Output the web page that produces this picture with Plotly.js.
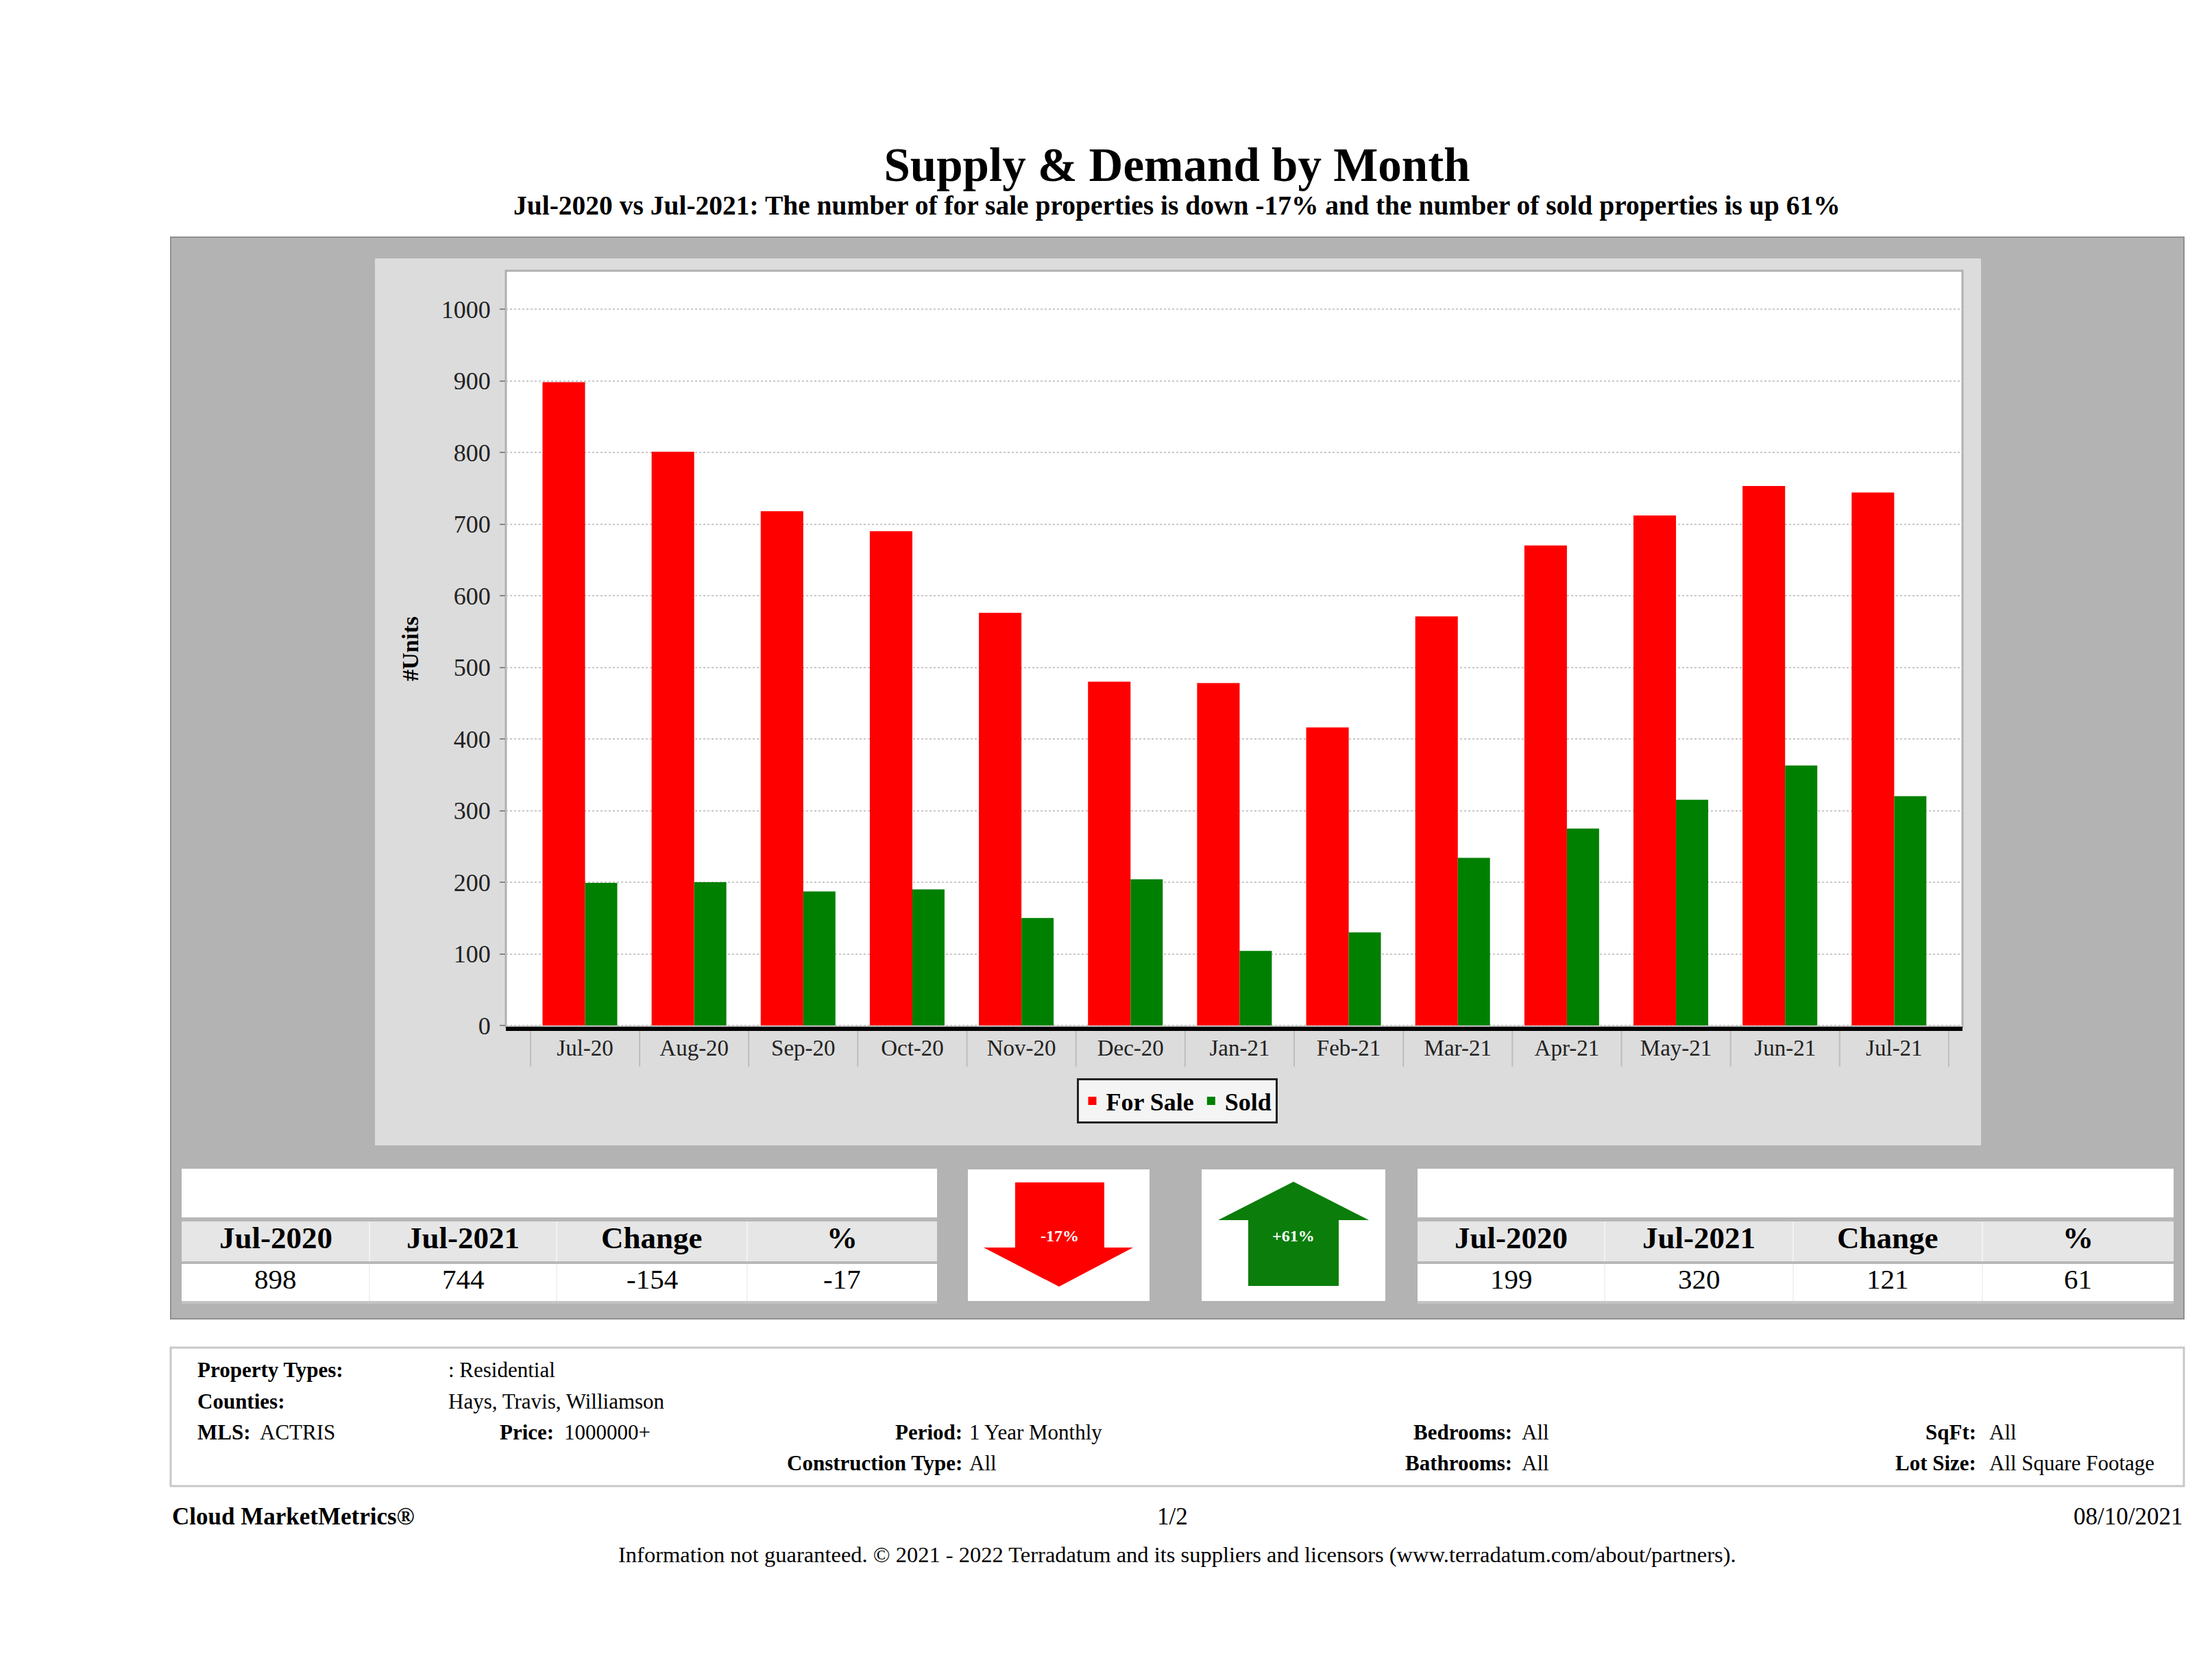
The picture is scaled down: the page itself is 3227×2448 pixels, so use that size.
<!DOCTYPE html>
<html>
<head>
<meta charset="utf-8">
<script src="https://cdn.plot.ly/plotly-3.0.1.min.js"></script>
<style>html,body{margin:0;padding:0;background:#fff;}#chart{width:3227px;height:2448px;}</style>
</head>
<body>
<div id="chart"></div>
<script>
// ---------- data ----------
const months = ["Jul-20","Aug-20","Sep-20","Oct-20","Nov-20","Dec-20","Jan-21","Feb-21","Mar-21","Apr-21","May-21","Jun-21","Jul-21"];
const forSale = [898, 801, 718, 690, 576, 480, 478, 416, 571, 670, 712, 753, 744];
const sold    = [199, 200, 187, 190, 150, 204, 104, 130, 234, 275, 315, 363, 320];
const tableHeaders = ["Jul-2020", "Jul-2021", "Change", "%"];
const forSaleTable = ["898", "744", "-154", "-17"];
const soldTable    = ["199", "320", "121", "61"];
const forSaleBadge = "-17%";
const soldBadge = "+61%";
const titleText = "Supply & Demand by Month";
const subtitleText = "Jul-2020 vs Jul-2021: The number of for sale properties is down -17% and the number of sold properties is up 61%";
const infoRows = [
  {label: "Property Types:", value: ": Residential"},
  {label: "Counties:", value: "Hays, Travis, Williamson"}
];
const footerLeft = "Cloud MarketMetrics®";
const footerMid = "1/2";
const footerRight = "08/10/2021";
const disclaimer = "Information not guaranteed. © 2021 - 2022 Terradatum and its suppliers and licensors (www.terradatum.com/about/partners).";

// ---------- geometry helpers ----------
const PW = 3227, PH = 2448;
const L = 738, R = 2863, T = 395, B = 1498;
const W = R - L, H = B - T;
const px = x => (x - L) / W;
const py = y => (B - y) / H;
const FONT = "Liberation Serif, Times New Roman, serif";

const shapes = [];
const ann = [];
function rect(x0, y0, x1, y1, fill, line, lw) {
  shapes.push({type: "rect", xref: "paper", yref: "paper", layer: "below",
    x0: px(x0), x1: px(x1), y0: py(y1), y1: py(y0),
    fillcolor: fill, line: {color: line || fill, width: lw === undefined ? 0 : lw}});
}
function path(pts, fill) {
  let d = pts.map((p, i) => (i ? "L" : "M") + px(p[0]) + "," + py(p[1])).join(" ") + " Z";
  shapes.push({type: "path", xref: "paper", yref: "paper", layer: "below", path: d, fillcolor: fill, line: {width: 0}});
}
function text(x, y, s, size, bold, anchor, color) {
  ann.push({xref: "paper", yref: "paper", x: px(x), y: py(y), text: bold ? "<b>" + s + "</b>" : s,
    showarrow: false, xanchor: anchor || "center", yanchor: "middle",
    font: {family: FONT, size: size, color: color || "#000"}});
}

// backgrounds
rect(249, 346, 3186, 1924, "#b3b3b3", "#8f8f8f", 2);
rect(547, 377, 2890, 1671, "#dcdcdc");
rect(L, T, R, B, "#ffffff", "#b0b0b0", 3);

// category separators below axis
for (let i = 0; i <= months.length; i++) {
  shapes.push({type: "line", xref: "x", yref: "paper", layer: "below",
    x0: i - 0.5, x1: i - 0.5, y0: py(1500), y1: py(1556),
    line: {color: "#bdbdbd", width: 2}});
}

// tables
function table(x0, x1, divs, values) {
  rect(x0, 1705, x1, 1900, "#ffffff");
  rect(x0, 1776, x1, 1782, "#b8b8b8");
  rect(x0, 1782, x1, 1840, "#e6e6e6");
  rect(x0, 1840, x1, 1844, "#b8b8b8");
  rect(x0, 1898, x1, 1902, "#c4c4c4");
  divs.forEach(d => {
    rect(d - 1, 1782, d + 1, 1840, "#f2f2f2");
    rect(d - 1, 1844, d + 1, 1898, "#f2f2f2");
  });
  const edges = [x0].concat(divs).concat([x1]);
  for (let i = 0; i < 4; i++) {
    const cx = (edges[i] + edges[i + 1]) / 2;
    text(cx, 1806, tableHeaders[i], 45, true);
    text(cx, 1866, values[i], 41, false);
  }
}
table(265, 1367, [539, 812, 1090], forSaleTable);
table(2068, 3171, [2341, 2616, 2892], soldTable);

// arrows
rect(1412, 1706, 1677, 1898, "#ffffff");
path([[1481, 1725], [1611, 1725], [1611, 1820], [1653, 1820], [1545, 1877], [1435, 1820], [1481, 1820]], "#ff0000");
text(1546, 1803, forSaleBadge, 24, true, "center", "#ffffff");
rect(1753, 1706, 2021, 1898, "#ffffff");
path([[1887, 1724], [1997, 1780], [1953, 1780], [1953, 1876], [1821, 1876], [1821, 1780], [1777, 1780]], "#0a7d0a");
text(1887, 1803, soldBadge, 24, true, "center", "#ffffff");

// info box
const FS = 31;
rect(249, 1966, 3186, 2168, "#ffffff", "#c8c8c8", 3);
text(286, 1998, infoRows[0].label, FS, true, "left");
text(652, 1998, infoRows[0].value, FS, false, "left");
text(286, 2044, infoRows[1].label, FS, true, "left");
text(652, 2044, infoRows[1].value, FS, false, "left");
text(286, 2089, "MLS:", FS, true, "left");
text(377, 2089, "ACTRIS", FS, false, "left");
text(810, 2089, "Price:", FS, true, "right");
text(821, 2089, "1000000+", FS, false, "left");
text(1406, 2089, "Period:", FS, true, "right");
text(1412, 2089, "1 Year Monthly", FS, false, "left");
text(2208, 2089, "Bedrooms:", FS, true, "right");
text(2218, 2089, "All", FS, false, "left");
text(2885, 2089, "SqFt:", FS, true, "right");
text(2900, 2089, "All", FS, false, "left");
text(1406, 2134, "Construction Type:", FS, true, "right");
text(1412, 2134, "All", FS, false, "left");
text(2208, 2134, "Bathrooms:", FS, true, "right");
text(2218, 2134, "All", FS, false, "left");
text(2885, 2134, "Lot Size:", FS, true, "right");
text(2900, 2134, "All Square Footage", FS, false, "left");

// footer
text(249, 2212, footerLeft, 35, true, "left");
text(1710, 2212, footerMid, 35, false, "center");
text(3186, 2212, footerRight, 35, false, "right");
text(1717, 2268, disclaimer, 32.5, false, "center");

// subtitle
text(1717, 300, subtitleText, 39.5, true, "center");

const traces = [
  {type: "bar", name: "For Sale", x: months, y: forSale, offset: -0.39, width: 0.39,
   marker: {color: "#ff0000", line: {width: 0}}},
  {type: "bar", name: "Sold", x: months, y: sold, offset: 0, width: 0.295,
   marker: {color: "#008000", line: {width: 0}}}
];

const layout = {
  width: PW, height: PH,
  margin: {l: L, r: PW - R, t: T, b: PH - B, pad: 0},
  paper_bgcolor: "#ffffff",
  plot_bgcolor: "rgba(0,0,0,0)",
  barmode: "overlay",
  showlegend: true,
  title: {text: "<b>" + titleText + "</b>", font: {family: FONT, size: 69, color: "#000"},
    xref: "paper", x: px(1717), xanchor: "center", yref: "container", y: 1 - 240 / PH, yanchor: "middle"},
  xaxis: {type: "category", range: [-0.726, 12.626], showgrid: false, ticks: "",
    showline: true, linecolor: "#000", linewidth: 6, zeroline: false,
    tickfont: {family: FONT, size: 33, color: "#222"}, ticklabelstandoff: -4, fixedrange: true},
  yaxis: {range: [-1.91, 1053.6], dtick: 100, tick0: 0, showgrid: true, gridcolor: "#c8c8c8", griddash: "dot", gridwidth: 2,
    zeroline: false, showline: false, ticks: "outside", ticklen: 8, tickcolor: "#888", tickwidth: 2,
    tickfont: {family: FONT, size: 36, color: "#222"}, ticklabelstandoff: 6,
    title: {text: "<b>#Units</b>", font: {family: FONT, size: 34, color: "#000"}, standoff: 22}, fixedrange: true},
  legend: {orientation: "h", x: px(1717), xanchor: "center", y: py(1573), yanchor: "top",
    bgcolor: "#f4f4f4", bordercolor: "#222", borderwidth: 3,
    font: {family: FONT, size: 36, color: "#000", weight: "bold"}, itemwidth: 30, traceorder: "normal"},
  shapes: shapes,
  annotations: ann
};

Plotly.newPlot("chart", traces, layout, {staticPlot: true, displayModeBar: false});
</script>
</body>
</html>
